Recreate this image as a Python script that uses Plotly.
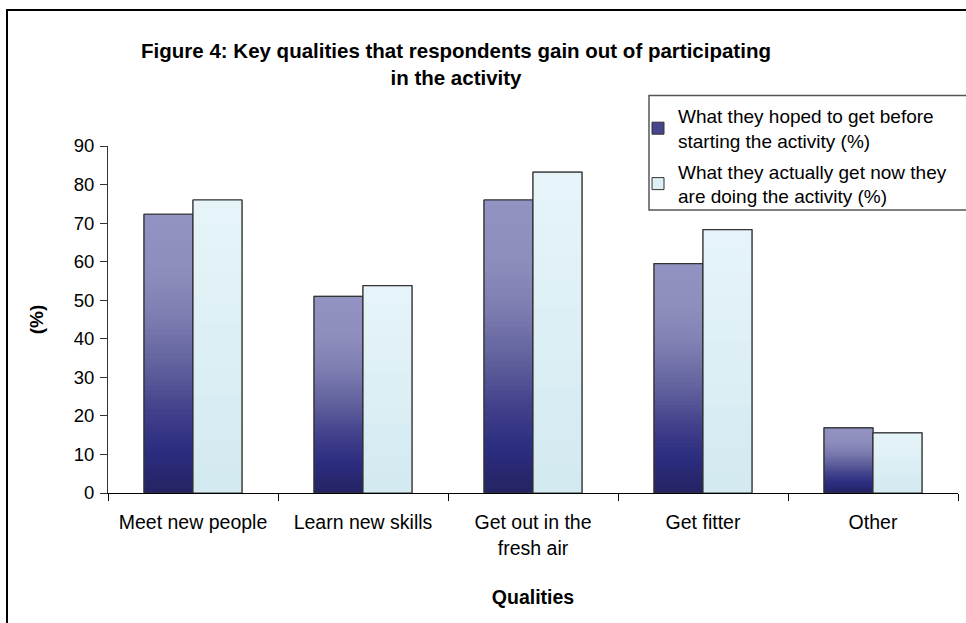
import plotly.graph_objects as go

# Survey results: key qualities respondents gain from the activity (%)
categories = ["Meet new people", "Learn new skills", "Get out in the fresh air", "Get fitter", "Other"]
tick_labels = ["Meet new people", "Learn new skills", "Get out in the<br>fresh air", "Get fitter", "Other"]
hoped = [72.3, 51.0, 76.0, 59.5, 16.9]
actual = [76.0, 53.8, 83.2, 68.3, 15.6]
hoped_name = "What they hoped to get before<br>starting the activity (%)"
actual_name = "What they actually get now they<br>are doing the activity (%)"

FONT = "Liberation Sans, Arial, sans-serif"
W = 0.288  # bar width in category units

# vertical gradient stops (fraction of bar height from the base, rgb)
hoped_stops = [(0.0, (36, 36, 98)), (0.15, (44, 44, 128)), (0.30, (66, 66, 140)),
               (0.44, (94, 94, 156)), (0.62, (124, 124, 176)), (0.80, (142, 142, 190)),
               (1.0, (147, 147, 195))]
actual_stops = [(0.0, (210, 234, 240)), (1.0, (231, 244, 249))]


def grad(stops, f):
    for (f0, c0), (f1, c1) in zip(stops[:-1], stops[1:]):
        if f <= f1:
            t = (f - f0) / (f1 - f0) if f1 > f0 else 0
            c = [round(a + (b - a) * t) for a, b in zip(c0, c1)]
            return f"rgb({c[0]},{c[1]},{c[2]})"
    c = stops[-1][1]
    return f"rgb({c[0]},{c[1]},{c[2]})"


fig = go.Figure()


def add_series(values, name, stops, steps, offset, legend_color, group):
    # legend entry (full bar underneath the gradient)
    fig.add_trace(go.Bar(
        x=categories, y=values, name=name, offset=offset, width=W,
        marker=dict(color=legend_color, line=dict(color="#333333", width=1)),
        legendgroup=group, showlegend=True, hoverinfo="skip"))
    # gradient: progressively shorter bars with darker colours on top
    for k in range(steps, 0, -1):
        f = k / steps
        fig.add_trace(go.Bar(
            x=categories, y=[v * f for v in values], offset=offset, width=W,
            marker=dict(color=grad(stops, f - 0.5 / steps), line=dict(width=0)),
            legendgroup=group, showlegend=False, hoverinfo="skip"))
    # outline
    fig.add_trace(go.Bar(
        x=categories, y=values, offset=offset, width=W,
        marker=dict(color="rgba(0,0,0,0)", line=dict(color="#333333", width=1.2)),
        legendgroup=group, showlegend=False,
        hovertemplate="%{x}: %{y}%<extra></extra>"))


add_series(hoped, hoped_name, hoped_stops, 60, -W, "rgb(70,70,140)", "hoped")
add_series(actual, actual_name, actual_stops, 12, 0.0, "rgb(220,239,244)", "actual")

fig.update_layout(
    width=966, height=623,
    margin=dict(l=108, r=8, t=146, b=130, autoexpand=False),
    paper_bgcolor="white", plot_bgcolor="white",
    barmode="overlay",
    font=dict(family=FONT, size=18.5, color="black"),
    title=dict(
        text="<b>Figure 4: Key qualities that respondents gain out of participating<br>in the activity</b>",
        x=456 / 966, xanchor="center", xref="container",
        y=1 - 58 / 623, yanchor="top", yref="container",
        font=dict(family=FONT, size=20.5, color="black")),
    legend=dict(
        xref="container", yref="container",
        x=638 / 966, xanchor="left", y=1 - 97 / 623, yanchor="top",
        font=dict(family=FONT, size=19, color="black"),
        bgcolor="rgba(0,0,0,0)", borderwidth=0, tracegroupgap=3),
    showlegend=True,
    xaxis=dict(
        type="category", tickmode="array", tickvals=categories, ticktext=tick_labels,
        range=[-0.5, 4.5], tickson="boundaries", ticks="outside", ticklen=7,
        tickcolor="black", showline=True, linecolor="black", linewidth=1,
        tickangle=0, showgrid=False, zeroline=False, automargin=False,
        ticklabelstandoff=12, tickfont=dict(family=FONT, size=19.5, color="black"),
        title=dict(text="<b>Qualities</b>", standoff=32,
                   font=dict(family=FONT, size=19.5, color="black"))),
    yaxis=dict(
        range=[0, 90], dtick=10, ticks="outside", ticklen=7, tickcolor="#333333",
        showline=True, linecolor="#333333", linewidth=1, showgrid=False, zeroline=False,
        ticklabelstandoff=2, automargin=False,
        title=dict(text="<b>(%)</b>", standoff=25,
                   font=dict(family=FONT, size=19, color="black"))),
    shapes=[
        # chart frame
        dict(type="rect", xref="paper", yref="paper",
             x0=(7 - 108) / 850, x1=1.3, y0=-1.0, y1=(493 - 10) / 347,
             line=dict(color="black", width=2), fillcolor="rgba(0,0,0,0)", layer="below"),
        # legend frame
        dict(type="rect", xref="paper", yref="paper",
             x0=(649 - 108) / 850, x1=1.3, y0=(493 - 210) / 347, y1=(493 - 95.5) / 347,
             line=dict(color="#555555", width=1.5), fillcolor="white", layer="below"),
    ],
)

fig.write_html("out.html")
